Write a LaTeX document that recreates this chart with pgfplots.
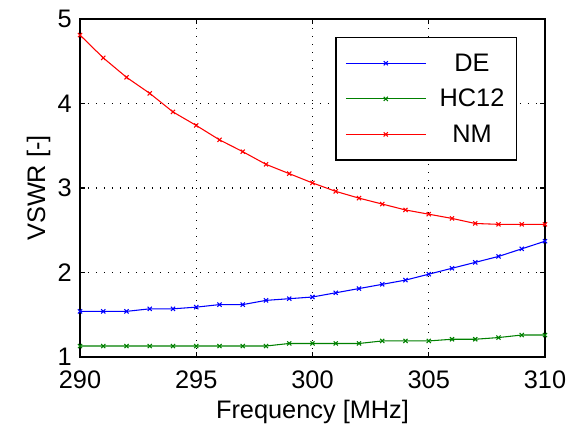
\documentclass[border=0pt]{standalone}
\usepackage{fontspec}
\setmainfont{Liberation Sans}
\usepackage{pgfplots}
\pgfplotsset{compat=1.18}

\pgfplotstableread{
f    DE    HC12  NM
290  1.54  1.13  4.81
291  1.54  1.13  4.54
292  1.54  1.13  4.31
293  1.57  1.13  4.12
294  1.57  1.13  3.90
295  1.59  1.13  3.74
296  1.62  1.13  3.57
297  1.62  1.13  3.43
298  1.67  1.13  3.28
299  1.69  1.16  3.17
300  1.71  1.16  3.06
301  1.76  1.16  2.96
302  1.81  1.16  2.88
303  1.86  1.19  2.81
304  1.91  1.19  2.74
305  1.98  1.19  2.69
306  2.05  1.21  2.64
307  2.12  1.21  2.58
308  2.19  1.23  2.57
309  2.28  1.26  2.57
310  2.37  1.26  2.57
}\vswr

\begin{document}
\begin{tikzpicture}
\useasboundingbox (-60pt,-56.25pt) rectangle (372pt,267.75pt);
\begin{axis}[
  scale only axis, width=348.75pt, height=253.5pt,
  xmin=290, xmax=310, ymin=1, ymax=5,
  xtick={290,295,...,310}, ytick={1,2,3,4,5},
  grid=major, grid style={black, line width=1pt, dash pattern=on 1pt off 5pt},
  tick align=inside, major tick length=4pt,
  tick style={black, line width=0.8pt},
  axis line style={line width=1pt},
  font=\fontsize{19}{22}\selectfont,
  /pgf/number format/assume math mode=true,
  xticklabel style={inner sep=1pt, yshift=-9pt},
  yticklabel style={inner sep=1pt, xshift=-5pt},
  xlabel={Frequency [MHz]}, ylabel={VSWR [-]},
  xlabel style={yshift=-4pt}, ylabel style={yshift=1pt},
  every axis plot/.append style={line width=0.8pt, mark=x, mark size=2.2pt},
  legend image code/.code={\draw[mark repeat=2, mark phase=2, #1] plot coordinates {(0pt,0pt) (30pt,0pt) (60pt,0pt)};
    \path (68pt,0pt);},
  legend style={at={(rel axis cs:0.94,0.947)}, anchor=north east, draw=black, line width=1pt,
    cells={anchor=center}, row sep=8pt, inner xsep=7pt, inner ysep=10pt,
    font=\fontsize{19}{22}\selectfont},
]
\addplot[blue] table[x=f, y=DE] {\vswr};
\addlegendentry{DE}
\addplot[green!50!black] table[x=f, y=HC12] {\vswr};
\addlegendentry{HC12}
\addplot[red] table[x=f, y=NM] {\vswr};
\addlegendentry{NM}
\end{axis}
\end{tikzpicture}
\end{document}
